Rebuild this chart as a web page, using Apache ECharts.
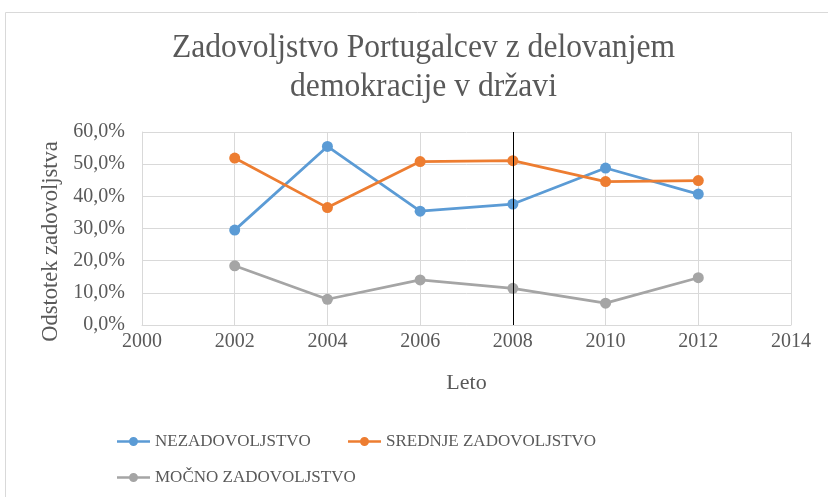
<!DOCTYPE html>
<html><head><meta charset="utf-8">
<script src="https://cdn.jsdelivr.net/npm/echarts@6/dist/echarts.min.js"></script>
<style>html,body{margin:0;padding:0;background:#fff}#c{width:828px;height:497px}</style>
</head><body><div id="c"></div>
<script>
const years = [2002, 2004, 2006, 2008, 2010, 2012];
const nezadovoljstvo = [29.5, 55.5, 35.4, 37.6, 48.8, 40.7];
const srednje = [51.9, 36.5, 50.8, 51.1, 44.6, 44.9];
const mocno = [18.4, 8.0, 14.0, 11.4, 6.8, 14.7];
const seriesNames = ['NEZADOVOLJSTVO', 'SREDNJE ZADOVOLJSTVO', 'MOČNO ZADOVOLJSTVO'];
const colors = ['#5B9BD5', '#ED7D31', '#A5A5A5'];
const markYear = 2008;
const titleLines = ['Zadovoljstvo Portugalcev z delovanjem', 'demokracije v državi'];

const font = '"Liberation Serif", "DejaVu Serif", serif';
const txt = '#595959';
const chart = echarts.init(document.getElementById('c'));
const mk = (name, vals, color, withMark) => {
  const s = {
    name, type: 'line', data: years.map((y, i) => [y, vals[i]]),
    symbol: 'circle', symbolSize: 11, color,
    lineStyle: { width: 2.75, color }, itemStyle: { color },
    z: 3
  };
  if (withMark) {
    s.markLine = { silent: true, symbol: 'none', label: { show: false },
      lineStyle: { color: '#000', width: 1, type: 'solid' },
      data: [{ xAxis: markYear }] };
  }
  return s;
};
const legendBase = { icon: 'path://M0,3.25 L33,3.25 L33,5.75 L0,5.75 Z M12,4.5 A4.5,4.5 0 1 1 21,4.5 A4.5,4.5 0 1 1 12,4.5 Z',
  itemWidth: 33, itemHeight: 9,
  textStyle: { fontFamily: font, fontSize: 17, color: txt }, itemGap: 2 };
const titleText = (t, y) => ({ type: 'text', x: 423.5, y, scaleX: 0.93,
  style: { text: t, x: 0, y: 0, align: 'center', verticalAlign: 'middle',
    font: '34px ' + font, fill: txt } });
chart.setOption({
  animation: false,
  backgroundColor: '#fff',
  graphic: [
    { type: 'rect', shape: { x: 5.5, y: 12.5, width: 830, height: 500 },
      style: { fill: 'none', stroke: '#d9d9d9', lineWidth: 1 }, z: -1 },
    titleText(titleLines[0], 48),
    titleText(titleLines[1], 87)
  ],
  legend: [
    Object.assign({}, legendBase, { data: [seriesNames[0]], left: 112, top: 428 }),
    Object.assign({}, legendBase, { data: [seriesNames[1]], left: 343, top: 428 }),
    Object.assign({}, legendBase, { data: [seriesNames[2]], left: 112, top: 464 })
  ],
  grid: { left: 142, right: 37, top: 132, bottom: 172 },
  xAxis: { type: 'value', min: 2000, max: 2014, interval: 2,
    name: 'Leto', nameLocation: 'middle', nameGap: 47,
    nameTextStyle: { fontFamily: font, fontSize: 22, color: txt },
    axisLine: { lineStyle: { color: '#d9d9d9' } }, axisTick: { show: false },
    splitLine: { show: true, lineStyle: { color: '#d9d9d9' } },
    axisLabel: { fontFamily: font, fontSize: 20, color: txt, margin: 7,
      formatter: v => String(v) } },
  yAxis: { type: 'value', min: 0, max: 60, interval: 10,
    name: 'Odstotek zadovoljstva', nameLocation: 'middle', nameGap: 79,
    nameTextStyle: { fontFamily: font, fontSize: 22.5, color: txt, padding: [0, 26, 0, 0] },
    axisLine: { show: true, lineStyle: { color: '#d9d9d9' } }, axisTick: { show: false },
    splitLine: { show: true, lineStyle: { color: '#d9d9d9' } },
    axisLabel: { fontFamily: font, fontSize: 20, color: txt, margin: 17,
      formatter: v => v.toFixed(1).replace('.', ',') + '%' } },
  series: [
    mk(seriesNames[0], nezadovoljstvo, colors[0], true),
    mk(seriesNames[1], srednje, colors[1], false),
    mk(seriesNames[2], mocno, colors[2], false)
  ]
});
</script></body></html>
